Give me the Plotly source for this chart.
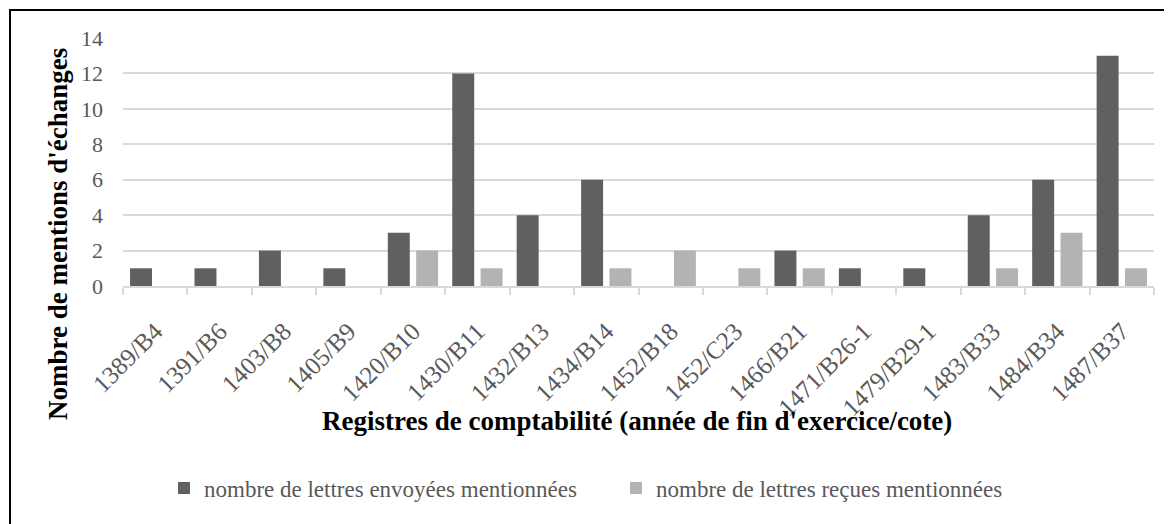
import plotly.graph_objects as go

categories = ["1389/B4", "1391/B6", "1403/B8", "1405/B9", "1420/B10", "1430/B11",
              "1432/B13", "1434/B14", "1452/B18", "1452/C23", "1466/B21", "1471/B26-1",
              "1479/B29-1", "1483/B33", "1484/B34", "1487/B37"]
sent = [1, 1, 2, 1, 3, 12, 4, 6, 0, 0, 2, 1, 1, 4, 6, 13]
received = [0, 0, 0, 0, 2, 1, 0, 1, 2, 1, 1, 0, 0, 1, 3, 1]
sent_name = "nombre de lettres envoyées mentionnées"
received_name = "nombre de lettres reçues mentionnées"
y_ticks = [0, 2, 4, 6, 8, 10, 12, 14]

FONT = "Liberation Serif, Times New Roman, serif"
# page body adds an 8px offset; figure coords = screen coords - 8
W, H = 1164, 516
L, R, T = 115, 18, 30
bottom = 278            # fig y of the category axis line
B = H - bottom
pw, ph = W - L - R, bottom - T


def py(fig_y):
    return (bottom - fig_y) / ph


def px(fig_x):
    return (fig_x - L) / pw


positions = list(range(len(categories)))   # category slots on the x scale

fig = go.Figure()
fig.add_trace(go.Bar(x=positions, y=sent, name=sent_name,
                     hovertext=categories,
                     marker=dict(color="#606060", line=dict(width=0))))
fig.add_trace(go.Bar(x=positions, y=received, name=received_name,
                     hovertext=categories,
                     marker=dict(color="#b3b3b3", line=dict(width=0))))

n = len(categories)
fig.update_layout(
    width=W, height=H,
    margin=dict(l=L, r=R, t=T, b=B, autoexpand=False),
    paper_bgcolor="white", plot_bgcolor="white",
    barmode="group", bargap=0.12, bargroupgap=0.225,
    font=dict(family=FONT, size=22, color="#595959"),
    showlegend=True,
    legend=dict(orientation="h", x=px(608), xanchor="center",
                y=py(480), yanchor="middle",
                font=dict(family=FONT, size=23, color="#595959"),
                traceorder="normal", itemwidth=30, entrywidth=407),
    xaxis=dict(range=[-0.5, n - 0.5], tickvals=positions, ticktext=categories,
               tickangle=-45, showgrid=False, zeroline=False,
               showline=True, linecolor="#d9d9d9", linewidth=1.5,
               ticks="outside", ticklen=19, tickcolor="rgba(0,0,0,0)",
               minor=dict(tick0=-0.5, dtick=1, ticks="outside", ticklen=7,
                          tickcolor="#d9d9d9", tickwidth=1.5, showgrid=False),
               tickfont=dict(family=FONT, size=25, color="#595959")),
    yaxis=dict(range=[0, 14], tickvals=y_ticks,
               showgrid=True, gridcolor="#d9d9d9",
               gridwidth=1.5, zeroline=False, showline=False, ticks="",
               ticklabelstandoff=19,
               tickfont=dict(family=FONT, size=22, color="#595959")),
)

fig.add_annotation(text="<b>Nombre de mentions d'échanges</b>", xref="paper", yref="paper",
                   x=px(50), y=py(226),
                   textangle=-90, showarrow=False, xanchor="center", yanchor="middle",
                   font=dict(family=FONT, size=27, color="black"))
fig.add_annotation(text="<b>Registres de comptabilité (année de fin d'exercice/cote)</b>",
                   xref="paper", yref="paper", x=px(629), y=py(413),
                   showarrow=False, xanchor="center", yanchor="middle",
                   font=dict(family=FONT, size=27, color="black"))

fig.add_shape(type="rect", xref="paper", yref="paper",
              x0=px(2), x1=px(W + 10),
              y0=py(H + 10), y1=py(2),
              line=dict(color="black", width=2), fillcolor="rgba(0,0,0,0)", layer="above")

fig.write_html("out.html")
